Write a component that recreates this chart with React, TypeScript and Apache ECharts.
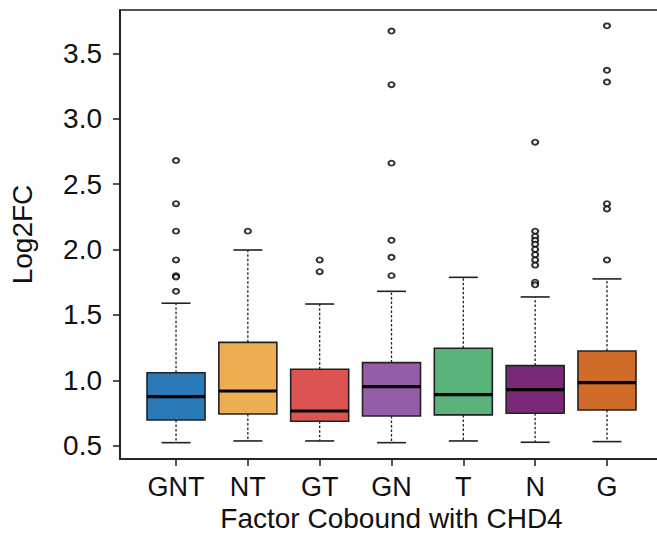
import React, { useEffect, useRef } from "react";
import * as echarts from "echarts";

const categories = ["GNT", "NT", "GT", "GN", "T", "N", "G"];
const lowerWhisker = [0.523, 0.536, 0.536, 0.523, 0.536, 0.526, 0.531];
const q1 = [0.696, 0.742, 0.687, 0.727, 0.735, 0.748, 0.773];
const median = [0.875, 0.918, 0.765, 0.951, 0.89, 0.928, 0.982];
const q3 = [1.058, 1.29, 1.084, 1.135, 1.245, 1.112, 1.224];
const upperWhisker = [1.589, 1.996, 1.583, 1.68, 1.787, 1.637, 1.775];

const outlierGNT = [2.68, 2.35, 2.14, 1.92, 1.8, 1.79, 1.68];
const outlierNT = [2.14];
const outlierGT = [1.92, 1.83];
const outlierGN = [3.67, 3.26, 2.66, 2.07, 1.94, 1.8];
const outlierT: number[] = [];
const outlierN = [2.82, 2.14, 2.1, 2.07, 2.04, 2.0, 1.96, 1.92, 1.88, 1.75, 1.73];
const outlierG = [3.71, 3.37, 3.28, 2.35, 2.31, 1.92];

const yTicks = [0.5, 1.0, 1.5, 2.0, 2.5, 3.0, 3.5];
const xTicks = [1, 2, 3, 4, 5, 6, 7];

const colors = ["#2A7AB8", "#EEAD50", "#DD5351", "#955DA7", "#59B37A", "#7A2877", "#D16B2A"];

export default function App() {
  const ref = useRef<HTMLDivElement>(null);
  useEffect(() => {
    if (!ref.current) return;
    const chart = echarts.init(ref.current, undefined, { renderer: "svg" });
    const outliers = [outlierGNT, outlierNT, outlierGT, outlierGN, outlierT, outlierN, outlierG];
    const boxData = categories.map((_, i) => [
      i + 1,
      lowerWhisker[i],
      q1[i],
      median[i],
      q3[i],
      upperWhisker[i],
      i,
    ]);
    const outlierData: number[][] = [];
    outliers.forEach((arr, i) => arr.forEach((v) => outlierData.push([i + 1, v])));
    const font = "'Liberation Sans', Arial, sans-serif";
    const ink = "#1a1a1a";

    chart.setOption({
      animation: false,
      backgroundColor: "#ffffff",
      grid: {
        left: 120,
        top: 10,
        bottom: 93,
        right: -6,
        outerBoundsMode: "none",
        containLabel: false,
        show: true,
        borderColor: ink,
        borderWidth: 1.6,
        backgroundColor: "transparent",
      },
      xAxis: {
        type: "value",
        min: 0.22,
        max: 7.78,
        splitLine: { show: false },
        axisLine: { show: true, onZero: false, lineStyle: { color: ink, width: 1.6 } },
        axisTick: {
          show: true,
          customValues: xTicks,
          length: 7,
          lineStyle: { color: ink, width: 1.5 },
        },
        axisLabel: {
          customValues: xTicks,
          formatter: (v: number) => categories[Math.round(v) - 1] ?? "",
          fontSize: 27,
          color: "#111",
          margin: 14,
          fontFamily: font,
        },
        name: "Factor Cobound with CHD4",
        nameLocation: "middle",
        nameGap: 38,
        nameTextStyle: { fontSize: 28, color: "#111", fontFamily: font },
      },
      yAxis: {
        type: "value",
        min: 0.398,
        max: 3.831,
        splitLine: { show: false },
        axisLine: { show: true, onZero: false, lineStyle: { color: ink, width: 1.6 } },
        axisTick: {
          show: true,
          customValues: yTicks,
          length: 7,
          lineStyle: { color: ink, width: 1.5 },
        },
        axisLabel: {
          customValues: yTicks,
          formatter: (v: number) => v.toFixed(1),
          fontSize: 28,
          color: "#111",
          margin: 18,
          fontFamily: font,
        },
        name: "Log2FC",
        nameLocation: "middle",
        nameGap: 84,
        nameTextStyle: { fontSize: 28, color: "#111", fontFamily: font },
      },
      series: [
        {
          type: "custom",
          data: boxData,
          encode: { x: 0, y: [1, 2, 3, 4, 5] },
          renderItem: (params: any, api: any) => {
            const x = api.value(0);
            const lo = api.value(1);
            const a = api.value(2);
            const m = api.value(3);
            const b = api.value(4);
            const hi = api.value(5);
            const ci = api.value(6);
            const half = api.size([0.404, 0])[0];
            const cap = half / 2;
            const pLo = api.coord([x, lo]);
            const pA = api.coord([x, a]);
            const pM = api.coord([x, m]);
            const pB = api.coord([x, b]);
            const pHi = api.coord([x, hi]);
            const cx = pM[0];
            const dash = { stroke: "#222", lineWidth: 1.3, lineDash: [2.5, 2] };
            const solid = { stroke: "#222", lineWidth: 1.6 };
            return {
              type: "group",
              children: [
                { type: "line", shape: { x1: cx, y1: pB[1], x2: cx, y2: pHi[1] }, style: dash },
                { type: "line", shape: { x1: cx, y1: pA[1], x2: cx, y2: pLo[1] }, style: dash },
                { type: "line", shape: { x1: cx - cap, y1: pHi[1], x2: cx + cap, y2: pHi[1] }, style: solid },
                { type: "line", shape: { x1: cx - cap, y1: pLo[1], x2: cx + cap, y2: pLo[1] }, style: solid },
                {
                  type: "rect",
                  shape: { x: cx - half, y: pB[1], width: 2 * half, height: pA[1] - pB[1] },
                  style: { fill: colors[ci], stroke: "#222", lineWidth: 1.6 },
                },
                {
                  type: "line",
                  shape: { x1: cx - half, y1: pM[1], x2: cx + half, y2: pM[1] },
                  style: { stroke: "#000", lineWidth: 3.2 },
                },
              ],
            };
          },
          z: 2,
        },
        {
          type: "scatter",
          data: outlierData,
          symbol: "emptyCircle",
          symbolSize: [6, 5],
          itemStyle: { color: "#000", borderColor: "#000", borderWidth: 1.4 },
          z: 3,
        },
      ],
    });
    return () => chart.dispose();
  }, []);
  return (
    <div
      ref={ref}
      style={{ position: "fixed", left: 0, top: 0, width: 657, height: 552, background: "#fff" }}
    />
  );
}
